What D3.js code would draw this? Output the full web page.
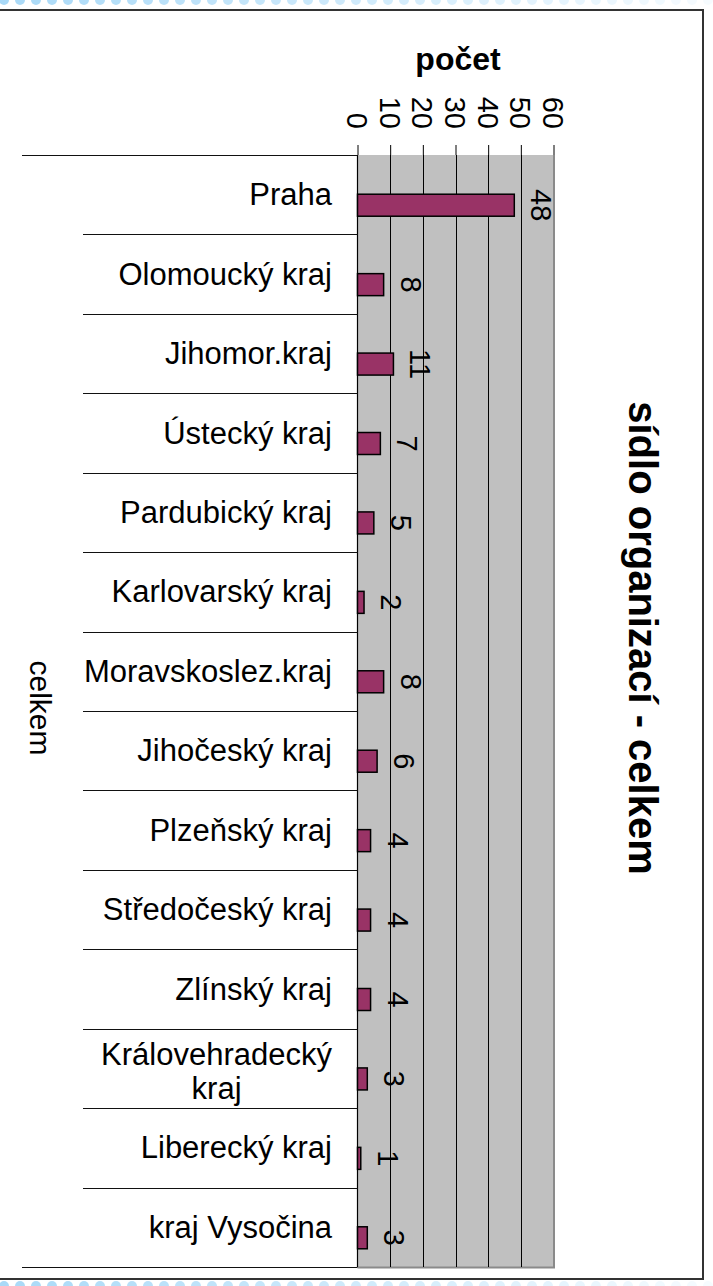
<!DOCTYPE html>
<html>
<head>
<meta charset="utf-8">
<script src="https://cdn.jsdelivr.net/npm/d3@7"></script>
<style>
html,body{margin:0;padding:0;background:#fff;}
svg{display:block;}
text{font-family:"Liberation Sans",Arial,sans-serif;fill:#000;}
</style>
</head>
<body>
<svg id="chart" width="713" height="1286"></svg>
<script>
const categories = ["Praha","Olomoucký kraj","Jihomor.kraj","Ústecký kraj","Pardubický kraj","Karlovarský kraj","Moravskoslez.kraj","Jihočeský kraj","Plzeňský kraj","Středočeský kraj","Zlínský kraj","Královehradecký kraj","Liberecký kraj","kraj Vysočina"];
const values = [48,8,11,7,5,2,8,6,4,4,4,3,1,3];
const tickValues = [0,10,20,30,40,50,60];
const chartTitle = "sídlo organizací - celkem";
const axisTitle = "počet";
const groupLabel = "celkem";
const labelLines = {"Královehradecký kraj":["Královehradecký","kraj"]};

const svg = d3.select("#chart");

// decorative dotted rows
const dotX = d3.range(4, 713, 16);
const dotOpacity = d3.scaleLinear().domain([0, 713]).range([1, 0.1]);
[0, 1286].forEach(cy => {
  svg.append("g").selectAll("circle").data(dotX).join("circle")
    .attr("cx", d => d).attr("cy", cy).attr("r", 5)
    .attr("fill", "#a9d9f7").attr("fill-opacity", d => dotOpacity(d));
});

// frame
svg.append("rect").attr("x", -2).attr("y", 10).attr("width", 705).attr("height", 1269)
  .attr("fill", "#fff").attr("stroke", "#333").attr("stroke-width", 2);

const x = d3.scaleLinear().domain([0, 60]).range([357.5, 553.5]);
const y = d3.scaleBand().domain(categories).range([155, 1267]).padding(0);
const bw = y.bandwidth();

// plot area
svg.append("rect").attr("x", x(0)).attr("y", 155).attr("width", x(60) - x(0)).attr("height", 1267 - 155)
  .attr("fill", "#c0c0c0");
svg.append("path")
  .attr("d", `M${x(60)+0.5},155 V1267.5 H${x(0)}`)
  .attr("fill", "none").attr("stroke", "#8a8a8a").attr("stroke-width", 2);

// gridlines
svg.append("g").selectAll("line").data(tickValues.filter(d => d > 0 && d < 60)).join("line")
  .attr("x1", d => Math.round(x(d)) + 0.5).attr("x2", d => Math.round(x(d)) + 0.5)
  .attr("y1", 155).attr("y2", 1267)
  .attr("stroke", "#000").attr("stroke-width", 1);

// top value axis (ticks + rotated labels)
const xAxis = d3.axisTop(x).tickValues(tickValues).tickSize(10).tickFormat(d3.format("d"));
const gx = svg.append("g").attr("transform", "translate(0,155)").call(xAxis);
gx.select(".domain").remove();
gx.selectAll(".tick line").attr("stroke", "#000").attr("stroke-width", 1);
gx.selectAll(".tick text")
  .attr("font-size", 29).attr("font-family", "Liberation Sans, Arial, sans-serif").attr("fill", "#000")
  .attr("text-anchor", "end").attr("dominant-baseline", "central")
  .attr("x", 0).attr("y", 0).attr("dy", null)
  .attr("transform", "translate(-1,-26) rotate(90)");

// axis title
svg.append("text").attr("x", 458).attr("y", 70).attr("text-anchor", "middle")
  .attr("font-size", 32).attr("font-weight", "bold").text(axisTitle);

// category axis line
svg.append("line").attr("x1", x(0)).attr("x2", x(0)).attr("y1", 155).attr("y2", 1267)
  .attr("stroke", "#000").attr("stroke-width", 1.2);

// category separators
const bounds = categories.map(c => y(c)).concat([1267]);
svg.append("g").selectAll("line").data(bounds).join("line")
  .attr("x1", (d, i) => (i === 0 || i === bounds.length - 1) ? 22 : 83)
  .attr("x2", x(0))
  .attr("y1", d => Math.round(d) + 0.5).attr("y2", d => Math.round(d) + 0.5)
  .attr("stroke", "#111").attr("stroke-width", 1.2);

// category labels
const labelX = 332;
const fs = 31;
const lg = svg.append("g");
categories.forEach(c => {
  const cy = y(c) + bw / 2;
  const lines = labelLines[c];
  if (!lines) {
    lg.append("text").attr("x", labelX).attr("y", cy).attr("text-anchor", "end")
      .attr("dominant-baseline", "central").attr("font-size", fs).text(c);
  } else {
    const t = lg.append("text").attr("font-size", fs).attr("text-anchor", "middle")
      .attr("dominant-baseline", "central");
    const probe = lines.map(l => { const p = lg.append("text").attr("font-size", fs).text(l); const w = p.node().getComputedTextLength(); p.remove(); return w; });
    const maxW = d3.max(probe);
    const lh = 34;
    lines.forEach((l, i) => {
      t.append("tspan").attr("x", labelX - maxW / 2).attr("y", cy + 3 + (i - (lines.length - 1) / 2) * lh).text(l);
    });
  }
});

// group label
svg.append("text").attr("transform", "translate(40,708) rotate(90)")
  .attr("text-anchor", "middle").attr("dominant-baseline", "central")
  .attr("font-size", 30).text(groupLabel);

// bars
const data = categories.map((c, i) => ({c, v: values[i]}));
svg.append("g").selectAll("rect").data(data).join("rect")
  .attr("x", x(0)).attr("y", d => y(d.c) + bw / 2 - 0.5)
  .attr("width", d => x(d.v) - x(0)).attr("height", 22)
  .attr("fill", "#993366").attr("stroke", "#000").attr("stroke-width", 1.5);

// value labels
svg.append("g").selectAll("text").data(data).join("text")
  .attr("transform", d => `translate(${x(d.v) + 17},${y(d.c) + bw / 2 + 10.5}) rotate(90)`)
  .attr("text-anchor", "middle").attr("font-size", 29).text(d => d.v);

// chart title
svg.append("text").attr("transform", "translate(643,638) rotate(90)")
  .attr("text-anchor", "middle").attr("dominant-baseline", "central")
  .attr("font-size", 40).attr("font-weight", "bold").text(chartTitle);
</script>
</body>
</html>
